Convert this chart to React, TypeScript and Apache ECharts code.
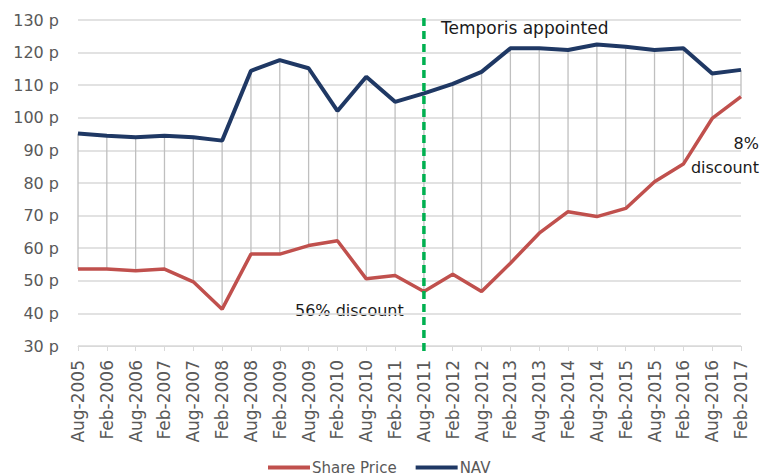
import React, { useEffect, useRef } from "react";
import * as echarts from "echarts";

const categories = [
  "Aug-2005", "Feb-2006", "Aug-2006", "Feb-2007", "Aug-2007", "Feb-2008",
  "Aug-2008", "Feb-2009", "Aug-2009", "Feb-2010", "Aug-2010", "Feb-2011",
  "Aug-2011", "Feb-2012", "Aug-2012", "Feb-2013", "Aug-2013", "Feb-2014",
  "Aug-2014", "Feb-2015", "Aug-2015", "Feb-2016", "Aug-2016", "Feb-2017",
];

const sharePrice = [
  53.6, 53.6, 53.1, 53.6, 49.7, 41.3, 58.2, 58.2, 60.8, 62.3, 50.6, 51.6,
  46.7, 52.0, 46.7, 55.4, 64.6, 71.2, 69.7, 72.2, 80.4, 85.8, 99.8, 106.5,
];

const nav = [
  95.2, 94.5, 94.0, 94.5, 94.0, 93.0, 114.4, 117.7, 115.2, 102.1, 112.6, 104.9,
  107.5, 110.4, 114.1, 121.3, 121.3, 120.8, 122.5, 121.8, 120.8, 121.3, 113.6, 114.7,
];

const appointedIndex = 12;
const yMin = 30;
const yMax = 130;
const yInterval = 10;

const FONT = "DejaVu Sans";

export default function App() {
  const ref = useRef<HTMLDivElement>(null);

  useEffect(() => {
    document.body.style.margin = "0";
    if (!ref.current) return;
    const chart = echarts.init(ref.current, undefined, { renderer: "svg" });

    const hiLo = categories.map((_, i) => [i, sharePrice[i], nav[i]]);

    const option: any = {
      animation: false,
      backgroundColor: "#ffffff",
      textStyle: { fontFamily: FONT },
      grid: { left: 78, right: 22, top: 20, bottom: 130, containLabel: false },
      legend: {
        data: ["Share Price", "NAV"],
        left: 268,
        top: 460,
        padding: 0,
        itemWidth: 42,
        itemHeight: 4,
        itemGap: 19,
        icon: "rect",
        textStyle: {
          color: "#595959",
          fontSize: 15,
          lineHeight: 14,
          fontFamily: FONT,
          padding: [0, 0, 0, -3],
        },
      },
      xAxis: {
        type: "category",
        data: categories,
        boundaryGap: false,
        axisLine: { show: true, lineStyle: { color: "#d9d9d9", width: 1 } },
        axisTick: { show: true, length: 5, lineStyle: { color: "#d9d9d9" } },
        axisLabel: {
          rotate: 90,
          interval: 0,
          color: "#595959",
          fontSize: 17,
          fontFamily: FONT,
          margin: 14,
        },
        splitLine: { show: false },
      },
      yAxis: {
        type: "value",
        min: yMin,
        max: yMax,
        interval: yInterval,
        axisLine: { show: false },
        axisTick: { show: false },
        axisLabel: {
          formatter: "{value} p",
          color: "#595959",
          fontSize: 16,
          fontFamily: FONT,
          margin: 19,
        },
        splitLine: { lineStyle: { color: "#d9d9d9", width: 1.5 } },
      },
      series: [
        {
          type: "custom",
          name: "hilo",
          data: hiLo,
          encode: { x: 0, y: [1, 2] },
          z: 1,
          renderItem: (params: any, api: any) => {
            const i = api.value(0);
            const p1 = api.coord([i, api.value(1)]);
            const p2 = api.coord([i, api.value(2)]);
            return {
              type: "line",
              shape: { x1: p1[0], y1: p1[1], x2: p2[0], y2: p2[1] },
              style: { stroke: "#bfbfbf", lineWidth: 1.3 },
            };
          },
        },
        {
          name: "Share Price",
          type: "line",
          data: sharePrice,
          symbol: "none",
          z: 3,
          color: "#c0504d",
          lineStyle: { color: "#c0504d", width: 3.5 },
        },
        {
          name: "NAV",
          type: "line",
          data: nav,
          symbol: "none",
          z: 3,
          color: "#1f3864",
          lineStyle: { color: "#1f3864", width: 4 },
        },
        {
          type: "custom",
          name: "appointed",
          data: [[appointedIndex, yMax + 0.6, yMin - 1.8]],
          encode: { x: 0, y: [1, 2] },
          clip: false,
          z: 4,
          renderItem: (params: any, api: any) => {
            const i = api.value(0);
            const p1 = api.coord([i, api.value(1)]);
            const p2 = api.coord([i, api.value(2)]);
            return {
              type: "line",
              shape: { x1: p1[0], y1: p1[1], x2: p2[0], y2: p2[1] },
              style: { stroke: "#00b050", lineWidth: 3.5, lineDash: [8, 5] },
            };
          },
        },
      ],
      graphic: [
        {
          type: "text",
          left: 441,
          top: 19,
          style: { text: "Temporis appointed", fill: "#1a1a1a", fontSize: 17, fontFamily: FONT },
        },
        {
          type: "text",
          left: 295,
          top: 302,
          style: { text: "56% discount", fill: "#1a1a1a", fontSize: 16, fontFamily: FONT },
        },
        {
          type: "text",
          right: 4,
          top: 135,
          style: { text: "8%", fill: "#1a1a1a", fontSize: 16, fontFamily: FONT, align: "right" },
        },
        {
          type: "text",
          right: 4,
          top: 159,
          style: { text: "discount", fill: "#1a1a1a", fontSize: 16, fontFamily: FONT },
        },
      ],
    };

    chart.setOption(option);
    return () => chart.dispose();
  }, []);

  return <div ref={ref} style={{ width: 763, height: 476 }} />;
}
